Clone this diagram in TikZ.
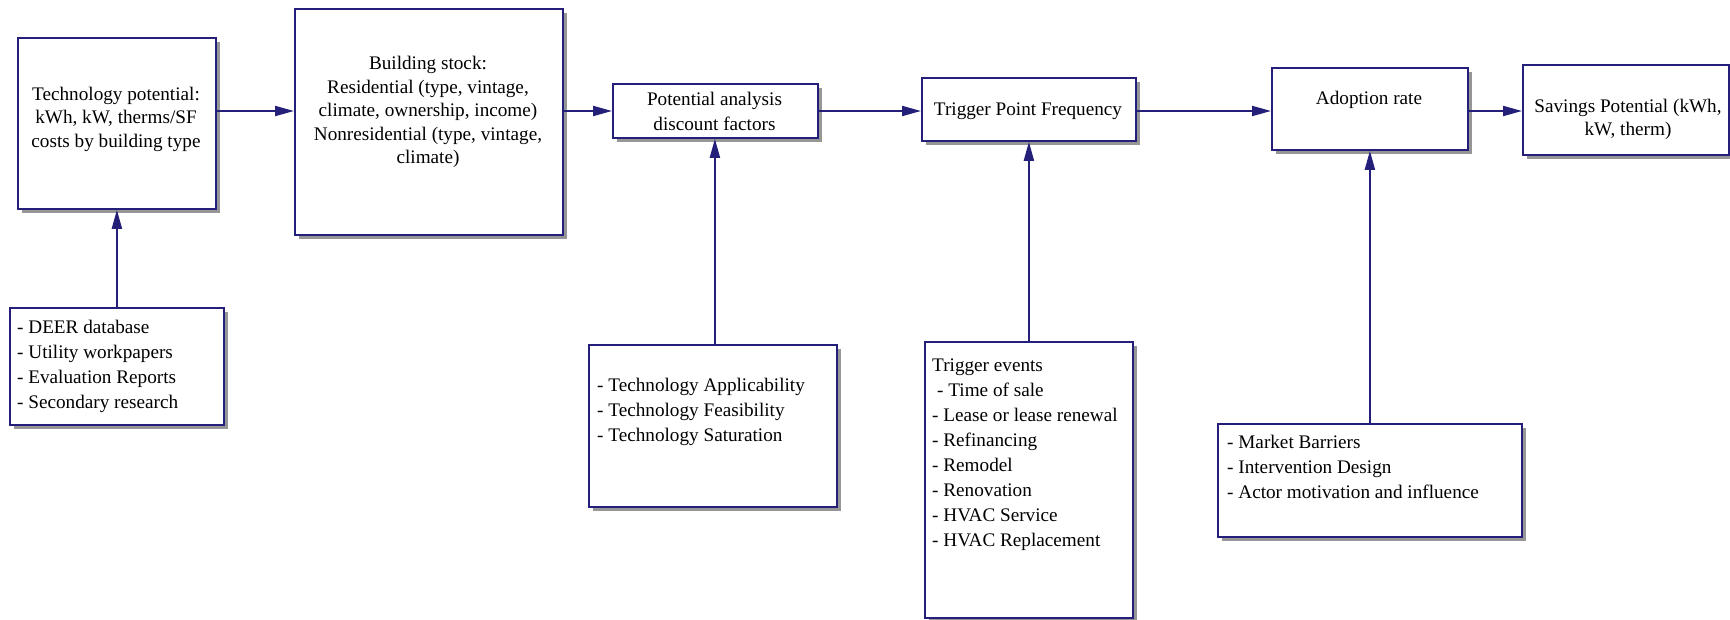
\documentclass[tikz,border=0pt]{standalone}
\usepackage{fontspec}
\setmainfont{Liberation Serif}
\usetikzlibrary{arrows.meta,shadows}
\definecolor{navy}{RGB}{36,32,122}
\definecolor{shade}{RGB}{150,150,150}
\begin{document}
\begin{tikzpicture}[x=1pt,y=-1pt,
  pbox/.style={draw=navy, line width=1.8pt, fill=white, inner sep=0pt, anchor=north west,
    drop shadow={shadow xshift=4.5pt, shadow yshift=-4.5pt, fill=shade, opacity=1}},
  ctext/.style={align=center, font=\fontsize{19.2}{23.5}\selectfont, inner sep=0pt},
  ltext/.style={align=left, anchor=west, font=\fontsize{19.2}{25}\selectfont, inner sep=0pt},
  arr/.style={draw=navy, line width=2pt, -{Triangle[length=19pt,width=10pt]}}]

% canvas
\fill[white] (0,0) rectangle (1730,619);
\useasboundingbox (0,0) rectangle (1730,619);

% main chain of boxes
\node[pbox, minimum width=198pt, minimum height=171pt] (b1) at (17,37) {};
\node[pbox, minimum width=268pt, minimum height=226pt] (b2) at (294,8) {};
\node[pbox, minimum width=205pt, minimum height=54pt]  (b3) at (612,83) {};
\node[pbox, minimum width=214pt, minimum height=63pt]  (b4) at (921,77) {};
\node[pbox, minimum width=196pt, minimum height=82pt]  (b5) at (1271,67) {};
\node[pbox, minimum width=206pt, minimum height=90pt]  (b6) at (1522,64) {};

% input boxes
\node[pbox, minimum width=214pt, minimum height=117pt] (b7)  at (9,307) {};
\node[pbox, minimum width=248pt, minimum height=162pt] (b8)  at (588,344) {};
\node[pbox, minimum width=208pt, minimum height=276pt] (b9)  at (924,341) {};
\node[pbox, minimum width=304pt, minimum height=113pt] (b10) at (1217,423) {};

% box texts
\node[ctext] (t1) at (116,119) {Technology potential:\\kWh, kW, therms/SF\\costs by building type};
\node[ctext] (t2) at (428,112) {Building stock:\\Residential (type, vintage,\\climate, ownership, income)\\Nonresidential (type, vintage,\\climate)};
\node[ctext, font=\fontsize{19.2}{25}\selectfont] (t3) at (714.5,111.5) {Potential analysis\\discount factors};
\node[ctext] (t4) at (1028,111) {Trigger Point Frequency};
\node[ctext] (t5) at (1369,100) {Adoption rate};
\node[ctext] (t6) at (1628,119.5) {Savings Potential (kWh,\\kW, therm)};

\node[ltext] (t7) at (17,366.5) {- DEER database\\- Utility workpapers\\- Evaluation Reports\\- Secondary research};
\node[ltext] (t8) at (597,412) {- Technology Applicability\\- Technology Feasibility\\- Technology Saturation};
\node[ltext] (t9) at (932,455) {Trigger events\\\hspace{5pt}- Time of sale\\- Lease or lease renewal\\- Refinancing\\- Remodel\\- Renovation\\- HVAC Service\\- HVAC Replacement};
\node[ltext] (t10) at (1227,467) {- Market Barriers\\- Intervention Design\\- Actor motivation and influence};

% horizontal flow
\coordinate (row) at (0,111);
\draw[arr] (b1.east |- row) -- (b2.west |- row);
\draw[arr] (b2.east |- row) -- (b3.west |- row);
\draw[arr] (b3.east |- row) -- (b4.west |- row);
\draw[arr] (b4.east |- row) -- (b5.west |- row);
\draw[arr] (b5.east |- row) -- (b6.west |- row);

% inputs feeding upward
\draw[arr] (b7.north) -- (b7.north |- b1.south);
\draw[arr] ([xshift=2pt]b8.north) -- ([xshift=2pt]b8.north |- b3.south);
\draw[arr] (b9.north) -- (b9.north |- b4.south);
\draw[arr] (b10.north) -- (b10.north |- b5.south);
\end{tikzpicture}
\end{document}
